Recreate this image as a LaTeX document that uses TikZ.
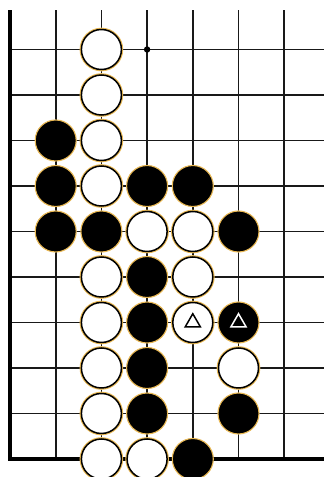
\documentclass[tikz,border=0pt]{standalone}
\usepackage{xcolor}
\usepackage{tikz}
\usetikzlibrary{shapes.geometric}
\definecolor{goldrim}{RGB}{232,184,84}
\definecolor{gridgray}{RGB}{25,25,25}

\begin{document}
\begin{tikzpicture}[x=45.7pt,y=-45.5pt,
  gridline/.style={draw=gridgray,line width=1.6pt},
  edgeline/.style={draw=black,line width=3.8pt},
  bstone/.style={circle,minimum size=41pt,inner sep=0pt,fill=black,draw=goldrim,line width=1.1pt},
  wstone/.style={circle,minimum size=40pt,inner sep=0pt,fill=white,draw=black,line width=1.5pt,
    preaction={draw=goldrim,line width=3.6pt}},
  trimark/.style={regular polygon,regular polygon sides=3,minimum size=17.5pt,inner sep=0pt,line width=1.5pt}]
  \useasboundingbox (-0.219,-1.088) rectangle (6.871,9.396);
  % board lines
  \foreach \r in {0,...,8}
    \draw[gridline] (0,\r) -- (6.871,\r);
  \foreach \c in {1,...,6}
    \draw[gridline] (\c,-0.868) -- (\c,9);
  \draw[edgeline] (0,-0.868) -- (0,9) -- (6.871,9);
  \fill (3,0) circle (3.2pt);
  % stones
  \foreach \c/\r [count=\i] in {2/0,2/1,2/2,2/3,3/4,4/4,2/5,4/5,2/6,4/6,2/7,5/7,2/8,2/9,3/9}
    \node[wstone] (w\i) at (\c,\r) {};
  \foreach \c/\r [count=\i] in {1/2,1/3,3/3,4/3,1/4,2/4,5/4,3/5,3/6,5/6,3/7,3/8,5/8,4/9}
    \node[bstone] (b\i) at (\c,\r) {};
  % marked stones
  \node[trimark,draw=black] (t1) at (w10) {};
  \node[trimark,draw=white] (t2) at (b10) {};
\end{tikzpicture}
\end{document}
